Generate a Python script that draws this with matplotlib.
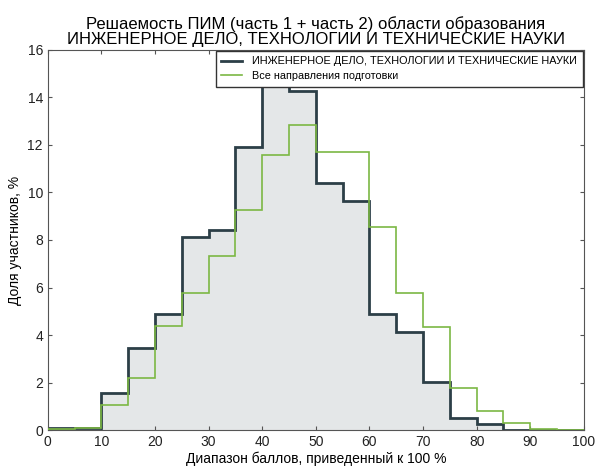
import numpy as np
import matplotlib.pyplot as plt

plt.rcParams['font.family'] = ['Liberation Sans', 'DejaVu Sans']

edges = np.arange(0, 105, 5)
eng_values = [0.08, 0.10, 1.58, 3.47, 4.89, 8.12, 8.41, 11.92, 15.34, 14.29,
              10.38, 9.63, 4.88, 4.13, 2.03, 0.51, 0.24, 0.0, 0.0, 0.0]
all_values = [0.03, 0.11, 1.06, 2.19, 4.40, 5.75, 7.33, 9.28, 11.58, 12.82,
              11.72, 11.72, 8.53, 5.75, 4.32, 1.79, 0.82, 0.30, 0.03, 0.0]

eng_label = 'ИНЖЕНЕРНОЕ ДЕЛО, ТЕХНОЛОГИИ И ТЕХНИЧЕСКИЕ НАУКИ'
all_label = 'Все направления подготовки'
title = ('Решаемость ПИМ (часть 1 + часть 2) области образования\n'
         'ИНЖЕНЕРНОЕ ДЕЛО, ТЕХНОЛОГИИ И ТЕХНИЧЕСКИЕ НАУКИ')

dark = '#2c3f47'
green = '#7cb844'
frame = '#555555'

fig = plt.figure(figsize=(5.97, 4.66), dpi=100)
ax = fig.add_axes([0.080, 0.077, 0.898, 0.816])

ax.stairs(eng_values, edges, fill=True, color='#e4e7e8', zorder=1)
ax.stairs(eng_values, edges, color=dark, lw=2.0, label=eng_label, zorder=2)
ax.stairs(all_values, edges, color=green, lw=1.2, label=all_label, zorder=3)

ax.set_xlim(0, 100)
ax.set_ylim(0, 16)
ax.set_xticks(np.arange(0, 101, 10))
ax.set_yticks(np.arange(0, 17, 2))
ax.tick_params(direction='in', top=True, right=True, labelsize=10, length=3,
               color=frame, labelcolor='#222222')
for spine in ax.spines.values():
    spine.set_color(frame)

ax.set_xlabel('Диапазон баллов, приведенный к 100 %', fontsize=10, labelpad=2)
ax.set_ylabel('Доля участников, %', fontsize=10)
ax.set_title(title, fontsize=12, linespacing=1.0, pad=4)

leg = ax.legend(loc='upper right', fontsize=7.8, fancybox=False, framealpha=1,
                edgecolor='#333333', borderaxespad=0.1, handlelength=1.9,
                handletextpad=1.0, borderpad=0.5, labelspacing=0.45)
leg.get_frame().set_linewidth(1.0)
leg.set_zorder(5)

plt.savefig('out.png')
